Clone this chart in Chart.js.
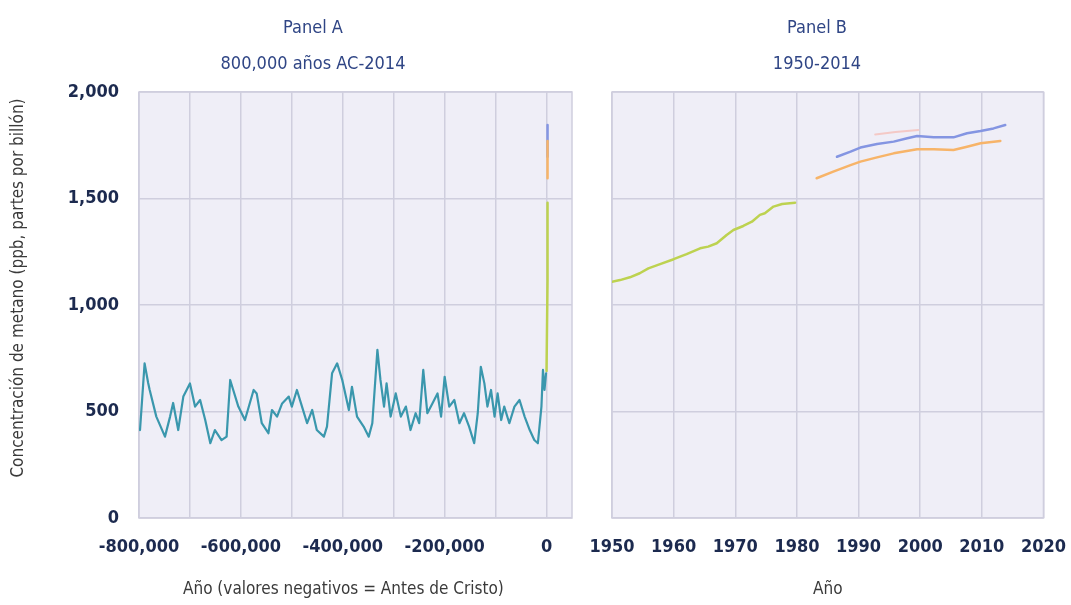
<!DOCTYPE html>
<html><head><meta charset="utf-8">
<script src="https://cdn.jsdelivr.net/npm/chart.js@4.4.1/dist/chart.umd.min.js"></script>
<style>
html,body{margin:0;padding:0;background:#fff;width:1071px;height:605px;overflow:hidden}
#ca{position:absolute;left:0;top:0}
#cb{position:absolute;left:560px;top:0}
</style></head><body>
<canvas id="ca" width="626" height="605"></canvas>
<canvas id="cb" width="525" height="605"></canvas>
<script>
// ---- Data ----
const yTicks = [0, 500, 1000, 1500, 2000];
const xTicksA = [-800000, -700000, -600000, -500000, -400000, -300000, -200000, -100000, 0];
const xTicksB = [1950, 1960, 1970, 1980, 1990, 2000, 2010, 2020];

// Panel A: ice-core record (years, negative = BC)
const coreYears = [-798000,-789000,-782000,-779000,-766000,-749000,-739000,-733000,-723000,-713000,
 -700000,-690000,-680000,-670000,-660000,-651000,-638000,-628000,-621000,-615000,
 -605000,-592000,-575000,-569000,-559000,-546000,-539000,-529000,-519000,-506000,
 -500000,-490000,-480000,-470000,-460000,-451000,-437000,-431000,-421000,-411000,
 -401000,-388000,-382000,-372000,-359000,-349000,-342000,-332000,-326000,-319000,
 -314000,-306000,-296000,-286000,-276000,-267000,-257000,-250000,-242000,-234000,
 -224000,-214000,-207000,-200000,-191000,-181000,-171000,-162000,-152000,-142000,
 -135000,-129000,-122000,-116000,-109000,-102000,-96000,-89000,-83000,-73000,
 -63000,-53000,-43000,-33000,-24000,-17000,-10000,-7000,-4000,-1000];
const coreCH4 = [413,726,634,601,476,382,476,540,413,570,
 632,523,554,460,351,413,366,382,648,601,
 523,460,601,585,445,398,507,476,538,570,
 523,601,523,445,507,413,382,429,679,726,
 648,507,616,476,429,382,445,789,648,523,
 632,476,585,476,523,413,492,445,695,492,
 538,585,476,663,523,554,445,492,429,351,
 492,710,632,523,601,476,585,460,523,445,
 523,554,476,413,366,351,523,695,601,679];

// Panel A: recent record compressed at year 0
const lawYearsA = [0, 1950, 1980];
const lawCH4A = [690, 1109, 1480];

// Panel B series
const greenYears = [1950,1951.3,1952.9,1954.5,1955.9,1957.8,1960,1962.1,1964.3,1965.6,1967,1968.6,1969.7,1971.3,1972.7,1974,1974.8,1976.2,1977.6,1979.7];
const greenCH4 = [1109,1117,1130,1149,1172,1192,1215,1239,1266,1274,1290,1329,1352,1371,1391,1423,1431,1462,1474,1480];
const blueYears = [1986.5,1988.7,1990.3,1993,1995.7,1997.9,1999.5,2002.2,2005.4,2007.6,2009.8,2011.9,2013.8];
const blueCH4 = [1696,1720,1739,1756,1767,1783,1793,1787,1787,1806,1817,1829,1845];
const orangeYears = [1983.2,1985.9,1988.7,1990.3,1993,1995.7,1999.5,2002.2,2005.4,2007.6,2009.8,2013];
const orangeCH4 = [1595,1626,1657,1673,1693,1712,1731,1731,1728,1743,1759,1770];
const pinkYears = [1992.7,1996,1999.7];
const pinkCH4 = [1801,1812,1822];

// ---- Styles ----
const FONT = "'Liberation Sans Narrow','DejaVu Sans Condensed','Roboto Condensed','Liberation Sans',sans-serif";
const C_TITLE = '#2f4585', C_TICK = '#1c2a4f', C_AXT = '#3a3a3a';
const C_BG = '#efeef7', C_GRID = '#cfcede';
const C_TEAL = '#3a97ad', C_GREEN = '#bdd250', C_BLUE = '#8495e2', C_ORANGE = '#f7b469', C_PINK = '#f4c9c6';

const pts = (xs, ys) => xs.map((x, i) => ({x, y: ys[i]}));

const bgPlugin = {
  id: 'bg',
  beforeDraw(chart) {
    const {ctx, chartArea: a} = chart;
    ctx.save();
    ctx.fillStyle = C_BG;
    ctx.fillRect(a.left, a.top, a.width, a.height);
    ctx.strokeStyle = C_GRID; ctx.lineWidth = 1.5;
    ctx.strokeRect(a.left, a.top, a.width, a.height);
    ctx.restore();
  }
};

// Two-line panel heading, drawn as canvas text
const panelTitlePlugin = {
  id: 'panelTitle',
  afterDraw(chart, args, opts) {
    const {ctx} = chart;
    ctx.save();
    ctx.fillStyle = opts.color;
    ctx.font = `normal ${opts.size}px ${FONT}`;
    ctx.textAlign = 'center';
    ctx.textBaseline = 'middle';
    opts.lines.forEach((t, i) => ctx.fillText(t, opts.x, opts.y[i]));
    ctx.restore();
  }
};

const line = (label, data, color, w) => ({
  label, data, borderColor: color, backgroundColor: color, borderWidth: w,
  pointRadius: 0, tension: 0, fill: false
});

const tickFont = {family: FONT, size: 18, weight: 'bold'};
const yScale = (showLabels, width) => ({
  type: 'linear', min: 0, max: 2000,
  afterBuildTicks: s => { s.ticks = yTicks.map(v => ({value: v})); },
  ticks: {display: showLabels, font: tickFont, color: C_TICK, padding: 20,
          callback: v => v.toLocaleString('en-US')},
  grid: {color: C_GRID, lineWidth: 1.5, drawTicks: false},
  border: {display: false},
  title: showLabels ? {display: true, text: '       Concentración de metano (ppb, partes por billón)',
     color: C_AXT, font: {family: FONT, size: 17}, padding: {top: 8, bottom: 0}} : {display: false},
  afterFit: s => { s.width = width; }
});

const common = {
  responsive: false, animation: false,
  elements: {line: {borderCapStyle: 'round', borderJoinStyle: 'round'}}
};
const plugins = (title) => ({legend: {display: false}, tooltip: {enabled: false}, title: {display: false},
  panelTitle: Object.assign({color: C_TITLE, size: 18, y: [28, 64]}, title)});

new Chart(document.getElementById('ca'), {
  type: 'line',
  data: {datasets: [
    line('Núcleos de hielo', pts(coreYears, coreCH4), C_TEAL, 2.2),
    line('Law Dome', pts(lawYearsA, lawCH4A), C_GREEN, 2.5),
    line('Orange', pts(orangeYears, orangeCH4), C_ORANGE, 2.5),
    line('Blue', pts(blueYears, blueCH4), C_BLUE, 2.5)
  ]},
  options: Object.assign({}, common, {
    layout: {padding: {left: 0, right: 54, top: 92, bottom: 0}},
    plugins: plugins({lines: ['Panel A', '800,000 años AC-2014'], x: 313}),
    scales: {
      x: {type: 'linear', min: -800000, max: 50000,
        afterBuildTicks: s => { s.ticks = xTicksA.map(v => ({value: v})); },
        ticks: {autoSkip: false, maxRotation: 0, font: tickFont, color: C_TICK, padding: 19,
                callback: v => (v % 200000 === 0 ? v.toLocaleString('en-US') : '')},
        grid: {color: C_GRID, lineWidth: 1.5, drawTicks: false},
        border: {display: false},
        title: {display: true, text: 'Año (valores negativos = Antes de Cristo)     ', color: C_AXT,
                font: {family: FONT, size: 17}, padding: {top: 4, bottom: 5}},
        afterFit: s => { s.height = 87; }
      },
      y: yScale(true, 139)
    }
  }),
  plugins: [bgPlugin, panelTitlePlugin]
});

new Chart(document.getElementById('cb'), {
  type: 'line',
  data: {datasets: [
    line('Law Dome', pts(greenYears, greenCH4), C_GREEN, 2.5),
    line('Pink', pts(pinkYears, pinkCH4), C_PINK, 2),
    line('Orange', pts(orangeYears, orangeCH4), C_ORANGE, 2.5),
    line('Blue', pts(blueYears, blueCH4), C_BLUE, 2.5)
  ]},
  options: Object.assign({}, common, {
    layout: {padding: {left: 0, right: 10, top: 92, bottom: 0}},
    plugins: plugins({lines: ['Panel B', '1950-2014'], x: 257}),
    scales: {
      x: {type: 'linear', min: 1950, max: 2020,
        afterBuildTicks: s => { s.ticks = xTicksB.map(v => ({value: v})); },
        ticks: {autoSkip: false, maxRotation: 0, font: tickFont, color: C_TICK, padding: 19,
                callback: v => String(v)},
        grid: {color: C_GRID, lineWidth: 1.5, drawTicks: false},
        border: {display: false},
        title: {display: true, text: 'Año', color: C_AXT,
                font: {family: FONT, size: 17}, padding: {top: 4, bottom: 5}},
        afterFit: s => { s.height = 87; }
      },
      y: yScale(false, 52)
    }
  }),
  plugins: [bgPlugin, panelTitlePlugin]
});
</script>
</body></html>
